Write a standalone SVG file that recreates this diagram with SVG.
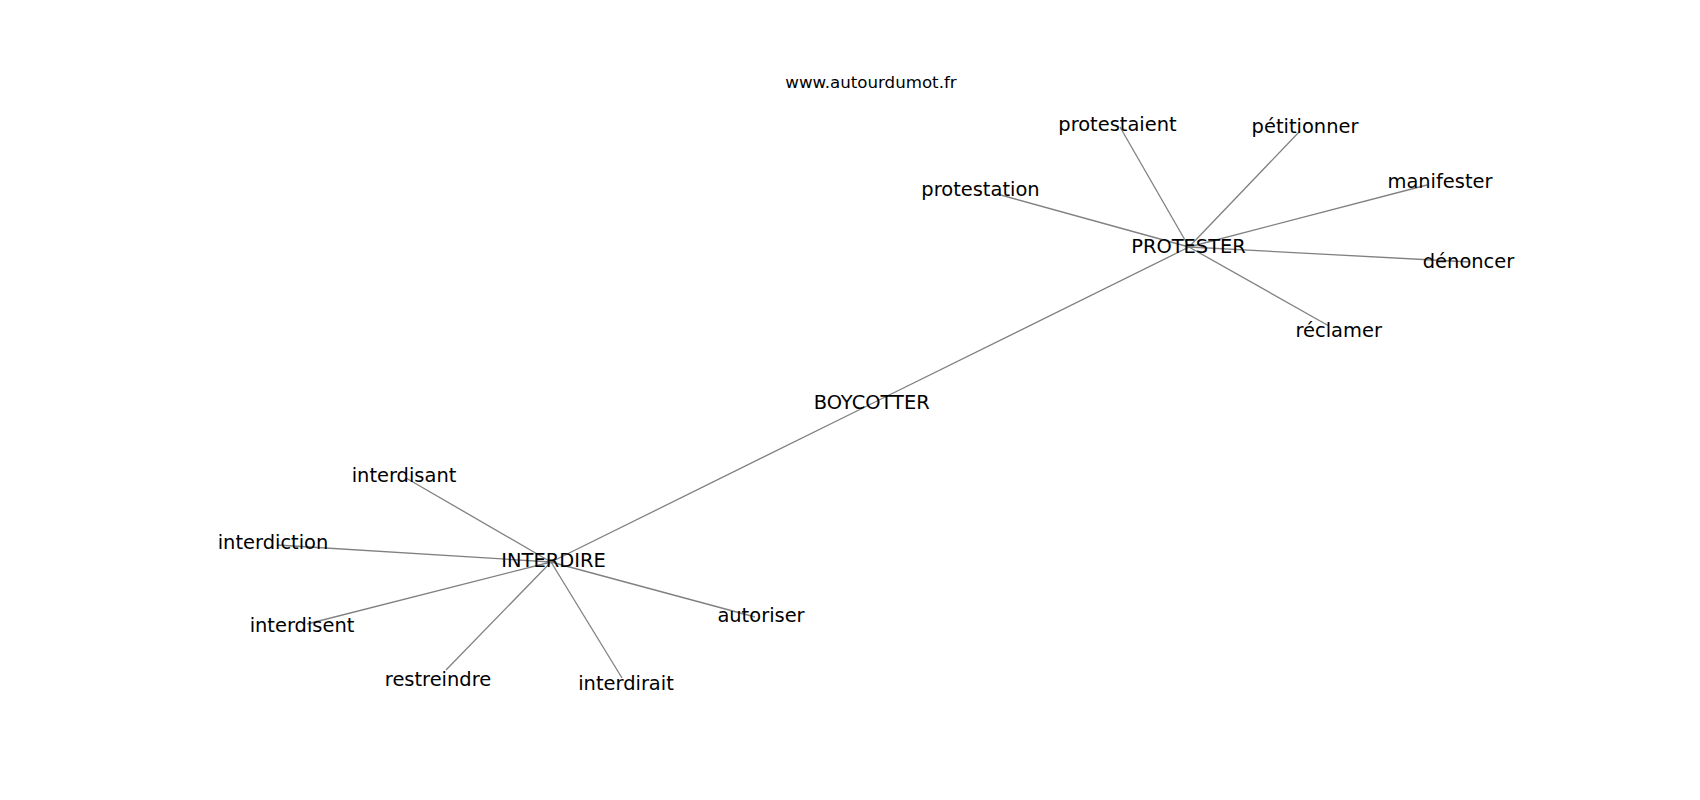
<svg xmlns="http://www.w3.org/2000/svg" width="1700" height="800" viewBox="0 0 1700 800">
<style>
.e{stroke:#808080;stroke-width:1.3;fill:none}
.n{font-family:"DejaVu Sans",sans-serif;font-size:19.44px;fill:#000;text-anchor:middle}
.w{font-family:"DejaVu Sans",sans-serif;font-size:16.67px;fill:#000;text-anchor:middle}
</style>
<rect width="1700" height="800" fill="#fff"/>
<g id="edges">
<line class="e" x1="1189" y1="247" x2="1120" y2="127"/>
<line class="e" x1="1189" y1="247" x2="1300" y2="131"/>
<line class="e" x1="1189" y1="247" x2="997" y2="194"/>
<line class="e" x1="1189" y1="247" x2="1427" y2="185"/>
<line class="e" x1="1189" y1="247" x2="1470" y2="262"/>
<line class="e" x1="1189" y1="247" x2="1329" y2="326"/>
<line class="e" x1="1189" y1="247" x2="870" y2="404.5"/>
<line class="e" x1="870" y1="404.5" x2="551" y2="562"/>
<line class="e" x1="551" y1="562" x2="406" y2="478"/>
<line class="e" x1="551" y1="562" x2="277" y2="545"/>
<line class="e" x1="551" y1="562" x2="307" y2="624"/>
<line class="e" x1="551" y1="562" x2="446" y2="670"/>
<line class="e" x1="551" y1="562" x2="622" y2="678"/>
<line class="e" x1="551" y1="562" x2="755" y2="617"/>
</g>
<text class="w" x="871" y="88">www.autourdumot.fr</text>
<g id="protester"><text class="n" x="1188.5" y="253">PROTESTER</text></g>
<g id="protestaient"><text class="n" x="1117.5" y="131">protestaient</text></g>
<g id="petitionner"><text class="n" x="1305" y="133">pétitionner</text></g>
<g id="protestation"><text class="n" x="980.5" y="196">protestation</text></g>
<g id="manifester"><text class="n" x="1440" y="188">manifester</text></g>
<g id="denoncer"><text class="n" x="1468.5" y="268">dénoncer</text></g>
<g id="reclamer"><text class="n" x="1338.7" y="337">réclamer</text></g>
<g id="boycotter"><text class="n" x="871.7" y="409">BOYCOTTER</text></g>
<g id="interdire"><text class="n" x="553.5" y="567">INTERDIRE</text></g>
<g id="interdisant"><text class="n" x="404" y="482">interdisant</text></g>
<g id="interdiction"><text class="n" x="273" y="549">interdiction</text></g>
<g id="interdisent"><text class="n" x="302" y="632">interdisent</text></g>
<g id="restreindre"><text class="n" x="438" y="686">restreindre</text></g>
<g id="interdirait"><text class="n" x="626" y="690">interdirait</text></g>
<g id="autoriser"><text class="n" x="761" y="622">autoriser</text></g>
</svg>
